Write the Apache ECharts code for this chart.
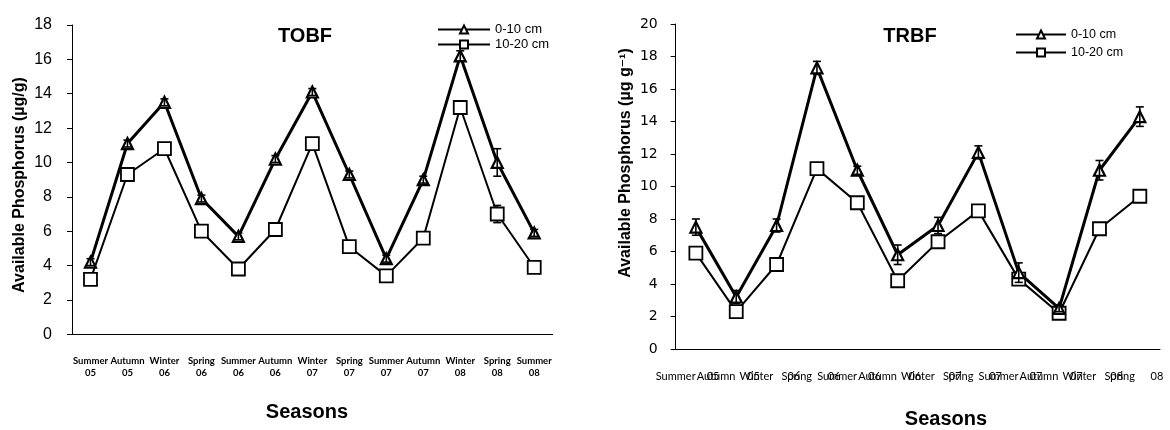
<!DOCTYPE html>
<html>
<head>
<meta charset="utf-8">
<script src="https://cdn.jsdelivr.net/npm/echarts@6/dist/echarts.min.js"></script>
<style>
  html, body { margin: 0; padding: 0; background: #fff; }
  #chart { width: 1170px; height: 430px; }
</style>
</head>
<body>
<div id="chart"></div>
<script>
// ---- TOBF panel (left) ----
const tobfCategories = ['Summer 05', 'Autumn 05', 'Winter 06', 'Spring 06', 'Summer 06', 'Autumn 06', 'Winter 07',
  'Spring 07', 'Summer 07', 'Autumn 07', 'Winter 08', 'Spring 08', 'Summer 08'];
const tobfTop = [4.2, 11.1, 13.5, 7.9, 5.7, 10.2, 14.1, 9.3, 4.4, 9.0, 16.2, 10.0, 5.9];
const tobfTopErr = [0.2, 0.2, 0.2, 0.2, 0.2, 0.2, 0.2, 0.2, 0.2, 0.2, 0.3, 0.8, 0.2];
const tobfSub = [3.2, 9.3, 10.8, 6.0, 3.8, 6.1, 11.1, 5.1, 3.4, 5.6, 13.2, 7.0, 3.9];
const tobfSubErr = [0.1, 0.1, 0.1, 0.1, 0.1, 0.1, 0.1, 0.1, 0.1, 0.1, 0.1, 0.5, 0.1];
const tobfYTicks = { min: 0, max: 18, interval: 2 };

// ---- TRBF panel (right) ----
const trbfCategories = ['Summer 05', 'Autumn 05', 'Winter 06', 'Spring 06', 'Summer 06', 'Autumn 06',
  'Winter 07', 'Spring 07', 'Summer 07', 'Autumn 07', 'Winter 08', 'Spring 08'];
const trbfTop = [7.5, 3.2, 7.6, 17.3, 11.0, 5.8, 7.6, 12.1, 4.7, 2.5, 11.0, 14.3];
const trbfTopErr = [0.5, 0.4, 0.4, 0.4, 0.25, 0.6, 0.5, 0.4, 0.6, 0.2, 0.6, 0.6];
const trbfSub = [5.9, 2.3, 5.2, 11.1, 9.0, 4.2, 6.6, 8.5, 4.3, 2.2, 7.4, 9.4];
const trbfSubErr = [0.1, 0.1, 0.1, 0.3, 0.1, 0.1, 0.1, 0.1, 0.1, 0.1, 0.1, 0.1];
const trbfYTicks = { min: 0, max: 20, interval: 2 };

const seriesNames = ['0-10 cm', '10-20 cm'];

// TRBF tick labels are set on the tick marks: season word on its tick, year on the next tick
const trbfSeasonWords = trbfCategories.map(c => c.split(' ')[0]).concat(['']);
const trbfYearWords = [''].concat(trbfCategories.map(c => c.split(' ')[1]));

const FONT = "'Liberation Sans', Arial, sans-serif";
const BLACK = '#000';

function errorBars(values, errs) {
  return values.map((v, i) => [i, v, errs[i]]);
}

function renderErrorBar(params, api) {
  const x = api.value(0), v = api.value(1), e = api.value(2);
  const top = api.coord([x, v + e]);
  const bot = api.coord([x, v - e]);
  const hw = 4;
  const st = { stroke: BLACK, lineWidth: 1.6 };
  return {
    type: 'group',
    children: [
      { type: 'line', shape: { x1: top[0], y1: top[1], x2: bot[0], y2: bot[1] }, style: st },
      { type: 'line', shape: { x1: top[0] - hw, y1: top[1], x2: top[0] + hw, y2: top[1] }, style: st },
      { type: 'line', shape: { x1: bot[0] - hw, y1: bot[1], x2: bot[0] + hw, y2: bot[1] }, style: st }
    ]
  };
}

function yAxis(gridIndex, ticks, labelSize, labelFont, margin) {
  return {
    type: 'value', gridIndex, min: ticks.min, max: ticks.max, interval: ticks.interval,
    axisLine: { show: true, lineStyle: { color: BLACK, width: 1 } },
    axisTick: { show: true, length: 5, lineStyle: { color: BLACK } },
    splitLine: { show: false },
    axisLabel: { color: BLACK, fontSize: labelSize, fontFamily: labelFont, margin }
  };
}

function lineSeries(name, xi, yi, data, top) {
  return {
    type: 'line', name, xAxisIndex: xi, yAxisIndex: yi, data,
    symbol: top ? 'triangle' : 'rect',
    symbolSize: top ? 11 : 13,
    showAllSymbol: true,
    z: top ? 4 : 2,
    lineStyle: { color: BLACK, width: top ? 3 : 2 },
    itemStyle: { color: '#fff', borderColor: BLACK, borderWidth: top ? 2.2 : 1.8 },
    emphasis: { disabled: true },
    animation: false
  };
}

function errSeries(xi, yi, values, errs, z) {
  return {
    type: 'custom', xAxisIndex: xi, yAxisIndex: yi, z,
    data: errorBars(values, errs),
    encode: { x: 0, y: 1 },
    renderItem: renderErrorBar,
    silent: true, animation: false
  };
}

const legendBase = {
  orient: 'vertical', data: seriesNames, padding: 0,
  itemHeight: 10, selectedMode: false,
  textStyle: { color: BLACK, fontSize: 13, fontFamily: FONT, lineHeight: 12 }
};

const option = {
  backgroundColor: '#fff',
  animation: false,
  grid: [
    { left: 72, top: 25, width: 480.7, height: 309.3, outerBoundsMode: 'none' },
    { left: 675.7, top: 24, width: 484.3, height: 325, outerBoundsMode: 'none' }
  ],
  legend: [
    Object.assign({}, legendBase, { left: 437, top: 23, itemWidth: 52, itemGap: 2 }),
    Object.assign({}, legendBase, { left: 1015, top: 28, itemWidth: 50, itemGap: 5,
      textStyle: Object.assign({}, legendBase.textStyle, { fontSize: 12.5 }) })
  ],
  xAxis: [
    {
      type: 'category', gridIndex: 0, data: tobfCategories, boundaryGap: true,
      axisLine: { lineStyle: { color: BLACK, width: 1 } },
      axisTick: { length: 4, lineStyle: { color: BLACK } },
      axisLabel: {
        interval: 0, color: BLACK, fontSize: 9.5, fontWeight: 'bold', fontFamily: "Lato, sans-serif",
        lineHeight: 12, margin: 21,
        formatter: v => v.replace(' ', '\n')
      }
    },
    {
      type: 'category', gridIndex: 1, data: trbfCategories, boundaryGap: true,
      axisLine: { lineStyle: { color: BLACK, width: 1 } },
      axisTick: { length: 4, lineStyle: { color: BLACK } },
      axisLabel: { show: false }
    },
    {
      type: 'category', gridIndex: 1, data: trbfSeasonWords, boundaryGap: false, position: 'bottom',
      axisLine: { show: false }, axisTick: { show: false },
      axisLabel: { interval: 0, color: BLACK, fontSize: 11, fontFamily: "Lato, sans-serif", margin: 22 }
    },
    {
      type: 'category', gridIndex: 1, data: trbfYearWords, boundaryGap: false, position: 'bottom',
      axisLine: { show: false }, axisTick: { show: false },
      axisLabel: { interval: 0, color: BLACK, fontSize: 11, fontFamily: "Lato, sans-serif", margin: 22,
        padding: [0, 6, 0, 0] }
    }
  ],
  yAxis: [
    yAxis(0, tobfYTicks, 16, FONT, 20),
    yAxis(1, trbfYTicks, 14, "'DejaVu Sans', sans-serif", 18)
  ],
  series: [
    errSeries(0, 0, tobfSub, tobfSubErr, 1),
    lineSeries(seriesNames[1], 0, 0, tobfSub, false),
    lineSeries(seriesNames[0], 0, 0, tobfTop, true),
    errSeries(0, 0, tobfTop, tobfTopErr, 5),
    errSeries(1, 1, trbfSub, trbfSubErr, 1),
    lineSeries(seriesNames[1], 1, 1, trbfSub, false),
    lineSeries(seriesNames[0], 1, 1, trbfTop, true),
    errSeries(1, 1, trbfTop, trbfTopErr, 5)
  ],
  graphic: [
    { type: 'text', x: 305, y: 36, style: { text: 'TOBF', fill: BLACK, font: "bold 20px " + FONT, align: 'center', verticalAlign: 'middle' } },
    { type: 'text', x: 910, y: 36, style: { text: 'TRBF', fill: BLACK, font: "bold 20px " + FONT, align: 'center', verticalAlign: 'middle' } },
    { type: 'text', x: 20, y: 185, rotation: Math.PI / 2,
      style: { text: 'Available Phosphorus (µg/g)', fill: BLACK, font: "bold 16px " + FONT, align: 'center', verticalAlign: 'middle' } },
    { type: 'text', x: 626, y: 163, rotation: Math.PI / 2,
      style: { text: 'Available Phosphorus (µg g⁻¹)', fill: BLACK, font: "bold 16px 'Liberation Sans', 'DejaVu Sans', sans-serif", align: 'center', verticalAlign: 'middle' } },
    { type: 'text', x: 307, y: 412, style: { text: 'Seasons', fill: BLACK, font: "bold 20px " + FONT, align: 'center', verticalAlign: 'middle' } },
    { type: 'text', x: 946, y: 419, style: { text: 'Seasons', fill: BLACK, font: "bold 20px " + FONT, align: 'center', verticalAlign: 'middle' } }
  ]
};

const chart = echarts.init(document.getElementById('chart'), null, { renderer: 'canvas' });
chart.setOption(option);
</script>
</body>
</html>
